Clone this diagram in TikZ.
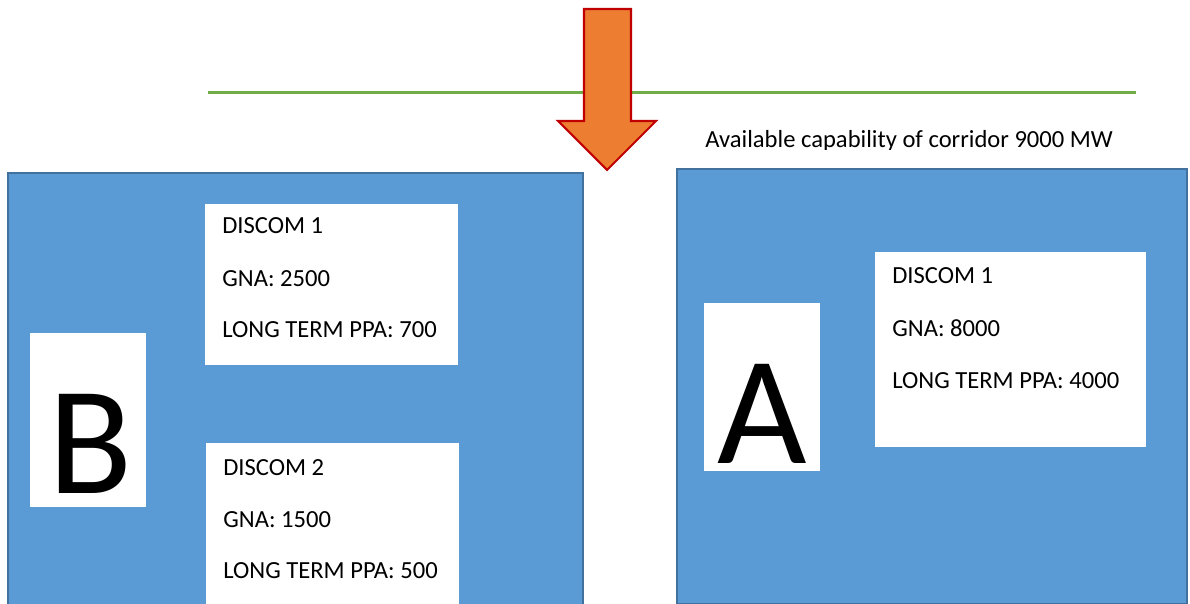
\documentclass[tikz,border=0pt]{standalone}
\usepackage{fontspec}
\setmainfont{Carlito}
\usetikzlibrary{positioning}
\definecolor{panel}{HTML}{5B9BD5}
\definecolor{edge}{HTML}{41719C}
\definecolor{grid}{HTML}{70AD47}
\definecolor{flow}{HTML}{ED7D31}
\definecolor{flowedge}{HTML}{C00000}
\tikzset{
  region/.style={draw=edge, fill=panel, line width=1.2pt, anchor=north west, inner sep=0pt},
  card/.style={fill=white, anchor=north west, inner sep=0pt},
  big/.style={anchor=base, inner sep=0pt, font=\fontsize{88}{88}\selectfont},
  txt/.style={anchor=base west, inner sep=0pt, font=\fontsize{14}{16}\selectfont},
}

\begin{document}
\begin{tikzpicture}[x=0.02cm, y=-0.02cm]
  \useasboundingbox (0,0) rectangle (1190,604);
  \clip (0,0) rectangle (1190,604);
  \draw[grid, line width=1.7pt] (208,92.5) coordinate (gl) -- (1136,92.5) coordinate (gr);
  \draw[flowedge, fill=flow, line width=1.2pt, line join=miter]
    (584,9) -- (631,9) -- (631,121) -- (656,121) -- (607,170) -- (558,121) -- (584,121) -- cycle;
  \begin{scope}
    \clip (690,120) rectangle (1140,150);
    \node[txt] (cap) at (705,148) {Available capability of corridor 9000 MW};
  \end{scope}
  % region B
  \node[region, minimum width=11.5cm, minimum height=9.2cm] (regB) at (7,172) {};
  \node[card, minimum width=5.06cm, minimum height=3.22cm] (b1) at (205,204) {};
  \node[card, minimum width=5.06cm, minimum height=3.6cm] (b2) at (206,443) {};
  \node[card, minimum width=2.32cm, minimum height=3.48cm] (tagB) at (30,333) {};
  \node[big] (B) at (91,493) {B};
  \node[txt] (b1a) at (222,234) {DISCOM 1};
  \node[txt] (b1b) at (222,287) {GNA: 2500};
  \node[txt] (b1c) at (222,338) {LONG TERM PPA: 700};
  \node[txt] (b2a) at (223,475) {DISCOM 2};
  \node[txt] (b2b) at (223,527) {GNA: 1500};
  \node[txt] (b2c) at (223,578) {LONG TERM PPA: 500};
  % region A
  \node[region, minimum width=10.2cm, minimum height=8.7cm] (regA) at (676,168) {};
  \node[card, minimum width=5.42cm, minimum height=3.9cm] (a1) at (875,252) {};
  \node[card, minimum width=2.32cm, minimum height=3.36cm] (tagA) at (704,303) {};
  \node[big] (A) at (762,463) {A};
  \node[txt] (a1a) at (892,284) {DISCOM 1};
  \node[txt] (a1b) at (892,337) {GNA: 8000};
  \node[txt] (a1c) at (892,389) {LONG TERM PPA: 4000};
\end{tikzpicture}
\end{document}
